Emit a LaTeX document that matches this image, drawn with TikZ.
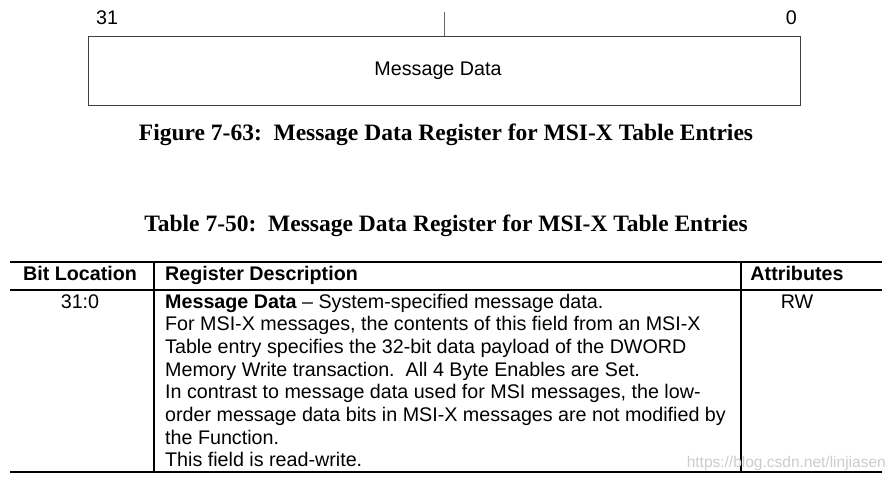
\documentclass[tikz,border=0pt]{standalone}
\usepackage{fontspec}
\setmainfont{Liberation Sans}
\newfontfamily\capfont{Liberation Serif}
\begin{document}
\begin{tikzpicture}[x=1pt,y=-1pt,
  body/.style={font=\fontsize{19.7}{22.67}\selectfont, inner sep=0pt},
  bbody/.style={font=\bfseries\fontsize{19.7}{22.67}\selectfont, inner sep=0pt},
  capt/.style={font=\capfont\bfseries\fontsize{23.5}{26}\selectfont, inner sep=0pt},
  rule/.style={line width=2.6pt},
  vline/.style={line width=1.6pt}]
\useasboundingbox[fill=white] (0,0) rectangle (896,481);
% register figure
\node[draw=black!75, line width=1.4pt, minimum width=712pt, minimum height=69pt, inner sep=0pt, anchor=north west] (reg) at (88,36) {};
\node[body, anchor=base] (mdtext) at (438,76) {Message Data};
\node[body, anchor=base west] (b31) at (96,25) {31};
\node[body, anchor=base east] (b0) at (797,25) {0};
\coordinate (tick) at (444,12);
\draw[black!60, line width=1pt] (tick) -- (tick |- reg.north);
\node[capt, anchor=base] (fig) at (446,141) {Figure 7-63:\ \ Message Data Register for MSI-X Table Entries};
% table
\node[capt, anchor=base] (tab) at (446,231) {Table 7-50:\ \ Message Data Register for MSI-X Table Entries};
\coordinate (tl) at (10,262);
\coordinate (tr) at (882,262);
\coordinate (hl) at (10,290);
\coordinate (hr) at (882,290);
\coordinate (bl) at (10,472);
\coordinate (br) at (882,472);
\coordinate (v1t) at (154,262);
\coordinate (v1b) at (154,472);
\coordinate (v2t) at (741,262);
\coordinate (v2b) at (741,472);
\draw[rule] (tl) -- (tr);
\draw[line width=2pt] (hl) -- (hr);
\draw[rule] (bl) -- (br);
\draw[vline] (v1t) -- (v1b);
\draw[vline] (v2t) -- (v2b);
\node[bbody, anchor=base] (h1) at (80,280) {Bit Location};
\node[bbody, anchor=base west] (h2) at (165,280) {Register Description};
\node[bbody, anchor=base] (h3) at (797,280) {Attributes};
\node[body, anchor=base] (c1) at (80,308) {31:0};
\node[body, anchor=base] (c3) at (797,308) {RW};
\node[body, anchor=north west, align=left] (c2) at (165,293.6) {\textbf{Message Data} -- System-specified message data.\\
For MSI-X messages, the contents of this field from an MSI-X\\
Table entry specifies the 32-bit data payload of the DWORD\\
Memory Write transaction.\ \ All 4 Byte Enables are Set.\\
In contrast to message data used for MSI messages, the low-\\
order message data bits in MSI-X messages are not modified by\\
the Function.\\
This field is read-write.};
\node[body, font=\fontsize{15.5}{17}\selectfont, text=black!20, anchor=base east] (wm) at (886,467) {https://blog.csdn.net/linjiasen};
\end{tikzpicture}
\end{document}
